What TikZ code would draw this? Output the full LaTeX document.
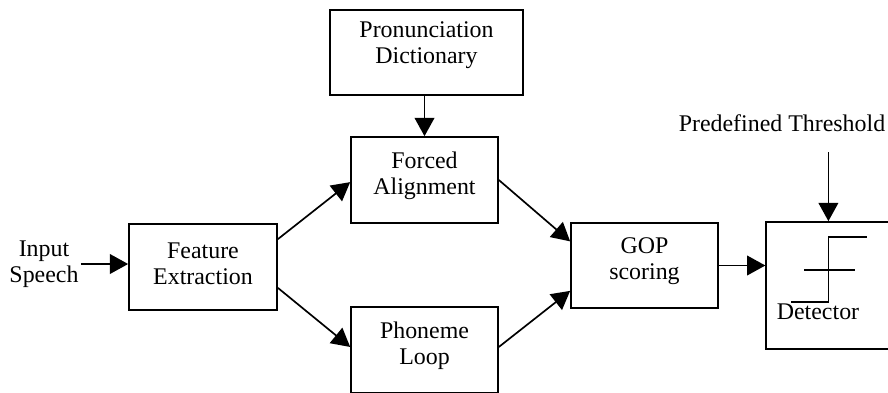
\documentclass[tikz,border=0pt]{standalone}
\usepackage{fontspec}
\setmainfont{Liberation Serif}
\usetikzlibrary{positioning, calc, arrows.meta}

\begin{document}
\begin{tikzpicture}[>={Triangle[length=13pt,width=14pt]}, line width=1.2pt]
        \tikzset{block/.style={rectangle, draw, align=center, text depth=10pt, font=\fontsize{17}{18.5}\selectfont},
                 plain/.style={align=center, font=\fontsize{17}{18.5}\selectfont}}
        \useasboundingbox (0,0) rectangle (22.2,-9.8);

        \node at (10.6625,-1.3125) [block, minimum width=4.825cm, minimum height=2.125cm, text depth=14pt] (dict) {Pronunciation\\Dictionary};
        \node at (10.6125,-4.5)    [block, minimum width=3.675cm, minimum height=2.15cm] (forced) {Forced\\Alignment};
        \node at (5.075,-6.675)    [block, minimum width=3.7cm, minimum height=2.15cm, text depth=5pt] (feat) {Feature\\Extraction};
        \node at (10.6125,-8.75)   [block, minimum width=3.675cm, minimum height=2.15cm] (phon) {Phoneme\\Loop};
        \node at (16.1125,-6.6375) [block, minimum width=3.675cm, minimum height=2.125cm] (gop) {GOP\\scoring};
        \node at (20.78,-7.14)     [rectangle, draw, minimum width=3.25cm, minimum height=3.18cm] (det) {};

        \node at (1.1,-6.6) [plain, inner sep=1pt] (input) {Input\\Speech};
        \node at (19.55,-3.075) [plain] (thr_text) {Predefined Threshold};
        \coordinate (thr) at (20.71,-3.8);

        % step symbol in the detector
        \draw (20.71,-5.93) -- ++(0.96,0)
              (20.71,-5.93) -- ++(0,-1.62) -- ++(-0.93,0)
              (20.10,-6.75) -- ++(1.27,0);
        \node at (20.45,-7.80) [plain, inner sep=0pt] (det_label) {Detector};

        \draw[->] (input) -- (input -| feat.west);
        \draw[->] (dict.south -| forced.north) -- (forced.north);
        \draw[->] ([yshift=-0.40cm]feat.north east) -- ([yshift=-1.15cm]forced.north west);
        \draw[->] ([yshift=0.575cm]feat.south east) -- ([yshift=-1.02cm]phon.north west);
        \draw[->] (forced.east) -- ([yshift=-0.48cm]gop.north west);
        \draw[->] ([yshift=-1.02cm]phon.north east) -- ([yshift=0.45cm]gop.south west);
        \draw[->] (gop.east) -- (gop.east -| det.west);
        \draw[->] (thr) -- (thr |- det.north);

    \end{tikzpicture}
\end{document}
